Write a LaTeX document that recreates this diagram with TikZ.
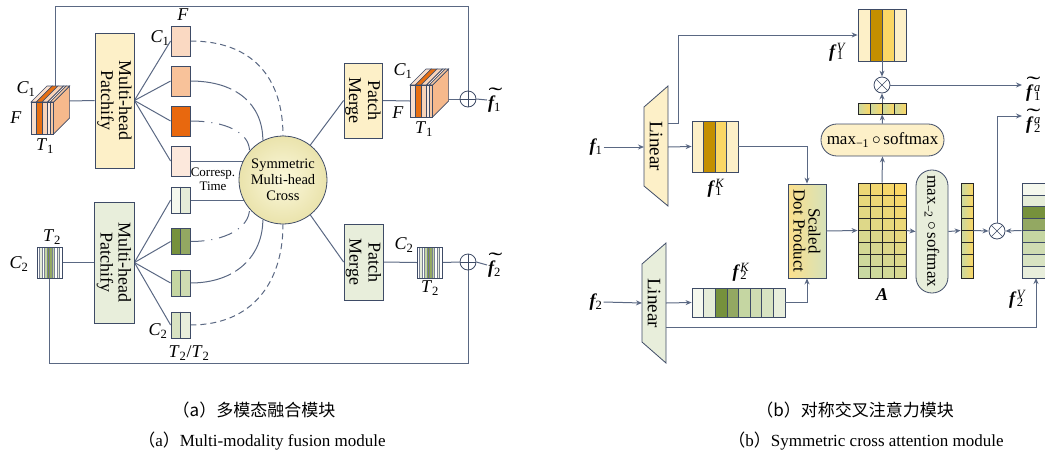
\documentclass[tikz,border=0pt]{standalone}
\usepackage{fontspec}
\usepackage{graphicx}
\setmainfont{Liberation Serif}
\newfontfamily\cjk{Noto Sans CJK SC}
\usetikzlibrary{arrows.meta}
\pgfdeclarelayer{bg}
\pgfsetlayers{bg,main}

\definecolor{wirec}{HTML}{5A6883}
\definecolor{edgec}{HTML}{3E4B66}
\definecolor{cream}{HTML}{FDF0C8}
\definecolor{sage}{HTML}{E8EEDB}
\definecolor{gold}{HTML}{C48F00}
\definecolor{ayel}{HTML}{FBD765}
\definecolor{agrn}{HTML}{C9D9A2}
\definecolor{sdpTop}{HTML}{FCE08C}
\definecolor{sdpBot}{HTML}{D6E1B9}
\definecolor{pkA}{HTML}{FAD9C2}
\definecolor{pkB}{HTML}{F8C29A}
\definecolor{pkC}{HTML}{E8680E}
\definecolor{pkD}{HTML}{FCE8DC}
\definecolor{gA}{HTML}{F5F8EE}
\definecolor{gB}{HTML}{E5ECD8}
\definecolor{gC}{HTML}{76913C}
\definecolor{gD}{HTML}{93A862}
\definecolor{gE}{HTML}{C5D6A2}
\definecolor{gF}{HTML}{CFDCB2}
\definecolor{gG}{HTML}{D8E3C2}
\definecolor{gH}{HTML}{E8EEDC}
\definecolor{slA}{HTML}{F9DFCD}
\definecolor{slB}{HTML}{E76F12}
\definecolor{slC}{HTML}{F8D3B8}
\definecolor{slD}{HTML}{FBE9DE}
\definecolor{slE}{HTML}{F7C8A3}
\definecolor{slSide}{HTML}{F6B98C}
\definecolor{ballIn}{HTML}{FBF8DC}
\definecolor{ballOut}{HTML}{EAE3AC}

% label helpers
\newcommand\mylab[2]{\textit{#1}\textsubscript{#2}}
\newcommand\bff{{\bfseries\itshape f}}
\newcommand\fsub[1]{\bff\textsubscript{#1}}
\newcommand\fss[2]{\bff\kern.1em\rlap{\textsubscript{#1}}\textsuperscript{\itshape #2}}
\newcommand\tilf{\rlap{\raisebox{.36em}{\kern.02em\scalebox{2.3}[1.2]{\char"02DC}}}\bff}
\newcommand\ftil[1]{\tilf\textsubscript{#1}}
\newcommand\ftila[1]{\tilf\kern.1em\rlap{\textsubscript{#1}}\textsuperscript{\itshape a}}

% stack of feature slices (front top-left corner at #1,#2)
\newcommand\slabs[2]{%
  \begin{scope}[shift={(#1,#2)}]
    \filldraw[fill=slSide, draw=edgec, line width=0.6pt] (22.6,0) -- (38.6,-16) -- (38.6,16) -- (22.6,32) -- cycle;
    \foreach \a/\b/\col in {0/5.3/slA,5.3/11/slB,11/16.6/slC,16.6/19.3/slD,19.3/22.6/slE} {
      \filldraw[fill=\col, draw=edgec, line width=0.6pt] (\a,0) -- (\b,0) -- (\b+16,-16) -- (\a+16,-16) -- cycle;
      \filldraw[fill=\col, draw=edgec, line width=0.6pt] (\a,0) rectangle (\b,32);
    }
  \end{scope}}

% striped T x C feature map (top-left corner at #1,#2)
\newcommand\tstrip[2]{%
  \begin{scope}[shift={(#1,#2)}]
    \foreach \col [count=\i from 0] in {white,gB,white,gE,gC,gD,gE,white,gB,white}
      \filldraw[fill=\col, draw=edgec!70, line width=0.4pt] (2.5*\i,0) rectangle ++(2.5,31);
    \draw[edgec, line width=0.7pt] (0,0) rectangle (25,31);
  \end{scope}}

\begin{document}
\begin{tikzpicture}[x=1pt,y=-1pt,
  link/.style={draw=wirec, line width=1pt},
  arr/.style={link, -{Stealth[length=6pt,width=5pt]}},
  pbox/.style={draw=edgec, line width=0.8pt, rotate=-90, align=center, inner sep=0pt},
  patch/.style={draw=edgec, line width=0.8pt, minimum width=19pt, inner sep=0pt},
  op/.style={circle, draw=edgec, fill=white, line width=0.8pt, minimum size=16pt, inner sep=0pt},
  lbl/.style={inner sep=1pt, font=\fontsize{18}{18}\selectfont},
  dA/.style={link, dash pattern=on 6pt off 4pt},
  dB/.style={link, dash pattern=on 42pt off 5pt on 14pt off 5pt},
  dC/.style={link, dash pattern=on 14pt off 7pt on 1pt off 7pt},
]
\clip (0,0) rectangle (1045,456);

%% ================= (a) multi-modality fusion module =================
\slabs{31}{102}
\coordinate (cubeAtop) at (55,94);
\coordinate (cubeAside) at (69,101);
\slabs{410}{85}
\coordinate (cubeBin) at (410,101);
\coordinate (cubeBout) at (448,99);

\node[lbl] (cA1) at (26,89) {\mylab{C}{1}};
\node[lbl] (fA1) at (16,118) {\textit{F}};
\node[lbl] (tA1) at (45,146) {\mylab{T}{1}};
\node[lbl] (cB1) at (403,71) {\mylab{C}{1}};
\node[lbl] (fB1) at (398,113) {\textit{F}};
\node[lbl] (tB1) at (424,129) {\mylab{T}{1}};

\node[pbox, fill=cream, minimum width=135pt, minimum height=39pt,
      font=\fontsize{18}{18}\selectfont] (patchA) at (114.5,100.5) {Multi-head\\Patchify};
\node[pbox, fill=sage, minimum width=121pt, minimum height=40pt,
      font=\fontsize{18}{18}\selectfont] (patchB) at (114,262.5) {Multi-head\\Patchify};

% patches of modality 1
\node[patch, minimum height=30pt, fill=pkA] (p1) at (180.5,41) {};
\node[patch, minimum height=30pt, fill=pkB] (p2) at (180.5,81) {};
\node[patch, minimum height=30pt, fill=pkC] (p3) at (180.5,121) {};
\node[patch, minimum height=30pt, fill=pkD] (p4) at (180.5,161) {};
\node[lbl] (fP) at (183,15) {\textit{F}};
\node[lbl] (cP) at (160,38) {\mylab{C}{1}};

% patches of modality 2 (two halves each)
\foreach \nm/\yy/\cl/\cr in {p5/200/gA/gB, p6/241.5/gC/gD, p7/283/gE/gF, p8/325/gG/gH} {
  \node[patch, minimum height=26pt, fill=\cl,
        path picture={\fill[\cr] (path picture bounding box.north) rectangle (path picture bounding box.south east);}]
        (\nm) at (180.5,\yy) {};
  \draw[edgec, line width=0.8pt] (\nm.north) -- (\nm.south);
}
\node[lbl] (cQ) at (158,331) {\mylab{C}{2}};
\node[lbl] (tQ) at (189,353) {\mylab{T}{2}/\mylab{T}{2}};

\node[align=center, inner sep=0pt, font=\fontsize{13}{14}\selectfont] (corr) at (213,179) {Corresp.\\Time};

\node[circle, draw=edgec, line width=0.8pt, inner color=ballIn, outer color=ballOut,
      minimum size=88pt, inner sep=0pt, align=center,
      font=\fontsize{14.5}{16}\selectfont] (smc) at (283,180) {Symmetric\\Multi-head\\Cross};

\node[pbox, fill=cream, minimum width=75pt, minimum height=38pt,
      font=\fontsize{18}{19}\selectfont] (mergeA) at (363,100.5) {Patch\\Merge};
\node[pbox, fill=sage, minimum width=76pt, minimum height=39pt,
      font=\fontsize{18}{19}\selectfont] (mergeB) at (363.5,262) {Patch\\Merge};

\tstrip{37}{247}
\node[minimum width=25pt, minimum height=31pt, inner sep=0pt] (stripA) at (49.5,262.5) {};
\node[lbl] (tS) at (52,237) {\mylab{T}{2}};
\node[lbl] (cS) at (19,264) {\mylab{C}{2}};
\tstrip{417}{247}
\node[minimum width=25pt, minimum height=31pt, inner sep=0pt] (stripB) at (429.5,262.5) {};
\node[lbl] (cS2) at (404,245) {\mylab{C}{2}};
\node[lbl] (tS2) at (430,288) {\mylab{T}{2}};

\node[op] (plusA) at (468,99) {};
\draw[edgec, line width=0.5pt] (plusA.north) -- (plusA.south) (plusA.east) -- (plusA.west);
\node[op] (plusB) at (468,262) {};
\draw[edgec, line width=0.5pt] (plusB.north) -- (plusB.south) (plusB.east) -- (plusB.west);
\node[lbl, anchor=west] (outA) at (487,100) {\ftil{1}};
\node[lbl, anchor=west] (outB) at (487,265) {\ftil{2}};

\coordinate (loopA) at (468,6);
\coordinate (loopB) at (468,363);

\begin{pgfonlayer}{bg}
  \draw[link] (cubeAtop) |- (loopA) -- (plusA.north);
  \draw[link] (cubeAside) -- (patchA.south);
  \foreach \p in {p1,p2,p3,p4} \draw[link] (patchA.north) -- (\p.west);
  \foreach \p in {p5,p6,p7,p8} \draw[link] (patchB.north) -- (\p.west);
  \draw[link] (stripA.east) -- (patchB.south);
  \draw[link] (stripA.south) |- (loopB) -- (plusB.south);
  \draw[link] (p4.east) -- (p4.east -| smc.center);
  \draw[link] (p5.east) -- (p5.east -| smc.center);
  \draw[dA] (p1.east) .. controls +(62,0) and +(0,-58) .. (smc.90);
  \draw[dB] (p2.east) .. controls +(46,0) and +(0,-36) .. (smc.117);
  \draw[dC] (p3.east) .. controls +(36,0) and +(0,-18) .. (smc.139);
  \draw[dC] (p6.east) .. controls +(36,0) and +(0,18) .. (smc.-139);
  \draw[dB] (p7.east) .. controls +(46,0) and +(0,36) .. (smc.-117);
  \draw[dA] (p8.east) .. controls +(62,0) and +(0,58) .. (smc.-90);
  \draw[link] (smc.52) -- (mergeA.south);
  \draw[link] (smc.-52) -- (mergeB.south);
  \draw[link] (mergeA.north) -- (cubeBin);
  \draw[link] (cubeBout) -- (plusA.west);
  \draw[link] (plusA.east) -- (outA.west);
  \draw[link] (mergeB.north) -- (stripB.west);
  \draw[link] (stripB.east) -- (plusB.west);
  \draw[link] (plusB.east) -- (outB.west);
\end{pgfonlayer}

%% ================= (b) symmetric cross attention module =================
\node[lbl] (fA) at (596,147) {\fsub{1}};
\node[lbl] (fB) at (596,302) {\fsub{2}};

% linear projections
\filldraw[fill=cream, draw=edgec, line width=0.8pt] (644,107) -- (668,86) -- (668,206) -- (644,186) -- cycle;
\filldraw[fill=sage, draw=edgec, line width=0.8pt] (642,264) -- (666,243) -- (666,363) -- (642,342) -- cycle;
\node[rotate=-90, font=\fontsize{19}{19}\selectfont] (linA) at (656,146) {Linear};
\node[rotate=-90, font=\fontsize{19}{19}\selectfont] (linB) at (654,303) {Linear};
\coordinate (lAin) at (644,147);
\coordinate (lAout) at (668,147);
\coordinate (lAup) at (668,123);
\coordinate (lAturn) at (678,123);
\coordinate (lBin) at (642,303);
\coordinate (lBout) at (666,303);
\coordinate (lBlow) at (666,327);

% key / value blocks
\foreach \col [count=\i from 0] in {cream,gold,ayel,cream}
  \fill[\col] (692+11.5*\i,121) rectangle ++(11.5,51);
\foreach \i in {1,2,3} \draw[edgec, line width=0.6pt] (692+11.5*\i,121) -- ++(0,51);
\node[draw=edgec, line width=0.8pt, minimum width=46pt, minimum height=51pt, inner sep=0pt] (kA) at (715,146.5) {};
\node[lbl] (kAl) at (716,188) {\fss{1}{K}};

\foreach \col [count=\i from 0] in {cream,gold,ayel,cream}
  \fill[\col] (858+12*\i,9) rectangle ++(12,52);
\foreach \i in {1,2,3} \draw[edgec, line width=0.6pt] (858+12*\i,9) -- ++(0,52);
\node[draw=edgec, line width=0.8pt, minimum width=48pt, minimum height=52pt, inner sep=0pt] (vA) at (882,35) {};
\node[lbl] (vAl) at (837,52) {\fss{1}{V}};

\foreach \col [count=\i from 0] in {gA,gB,gC,gD,gE,gF,gG,gH}
  \fill[\col] (692+11.625*\i,288) rectangle ++(11.625,29);
\foreach \i in {1,...,7} \draw[edgec, line width=0.6pt] (692+11.625*\i,288) -- ++(0,29);
\node[draw=edgec, line width=0.8pt, minimum width=93pt, minimum height=29pt, inner sep=0pt] (kB) at (738.5,302.5) {};
\node[lbl] (kBl) at (741,272) {\fss{2}{K}};

\foreach \col [count=\i from 0] in {gA,gB,gC,gD,gE,gF,gG,gH}
  \fill[\col] (1022,183+11.875*\i) rectangle ++(48,11.875);
\foreach \i in {1,...,7} \draw[edgec, line width=0.6pt] (1022,183+11.875*\i) -- ++(48,0);
\node[draw=edgec, line width=0.8pt, minimum width=48pt, minimum height=95pt, inner sep=0pt] (vB) at (1046,230.5) {};
\node[lbl] (vBl) at (1017,299) {\fss{2}{V}};

% scaled dot product
\node[pbox, left color=sdpTop, right color=sdpBot, minimum width=94pt, minimum height=38pt,
      font=\fontsize{17}{15}\selectfont] (sdp) at (807,231) {Scaled\\Dot Product};

% attention matrix A
\foreach \r in {0,...,7} \foreach \c in {0,...,3} {
  \pgfmathsetmacro\mix{100-100*(0.72*\r/7+0.28*(3-\c)/3)}
  \fill[ayel!\mix!agrn] (858+12*\c,183+11.875*\r) rectangle ++(12,11.875);
}
\foreach \i in {1,2,3} \draw[black!85, line width=0.7pt] (858+12*\i,183) -- ++(0,95);
\foreach \i in {1,...,7} \draw[black!85, line width=0.7pt] (858,183+11.875*\i) -- ++(48,0);
\node[draw=black!85, line width=0.8pt, minimum width=48pt, minimum height=95pt, inner sep=0pt] (amat) at (882,230.5) {};
\node[lbl] (Al) at (882,295) {\textbf{\textit{A}}};

% softmax branches
\node[draw=edgec, line width=0.8pt, fill=cream, rounded corners=15.9pt, minimum width=123pt,
      minimum height=32pt, inner sep=0pt, font=\fontsize{17}{17}\selectfont]
      (smA) at (882.5,140) {max\textsubscript{−1}\,$\circ$\,softmax};
\node[pbox, fill=sage, rounded corners=15.9pt, minimum width=123pt, minimum height=32pt,
      font=\fontsize{17}{17}\selectfont] (smB) at (932,231.5) {max\textsubscript{−2}\,$\circ$\,softmax};

\foreach \c in {0,...,3}
  \shade[left color=agrn, right color=ayel] (858+12*\c,103) rectangle ++(12,11);
\foreach \i in {1,2,3} \draw[black!85, line width=0.6pt] (858+12*\i,103) -- ++(0,11);
\node[draw=black!85, line width=0.8pt, minimum width=48pt, minimum height=11pt, inner sep=0pt] (rowv) at (882,108.5) {};

\foreach \r in {0,...,7}
  \shade[left color=agrn, right color=ayel] (961,183+11.875*\r) rectangle ++(12,11.875);
\foreach \i in {1,...,7} \draw[black!85, line width=0.6pt] (961,183+11.875*\i) -- ++(12,0);
\node[draw=black!85, line width=0.8pt, minimum width=12pt, minimum height=95pt, inner sep=0pt] (colv) at (967,230.5) {};

% products
\node[op] (mulA) at (882,85) {};
\draw[edgec, line width=0.5pt] (mulA.45) -- (mulA.225) (mulA.135) -- (mulA.-45);
\node[op] (mulB) at (997,231) {};
\draw[edgec, line width=0.5pt] (mulB.45) -- (mulB.225) (mulB.135) -- (mulB.-45);

\coordinate (outAt) at (1022,85);
\coordinate (outBt) at (1022,116);
\coordinate (vBin) at (1036,278);
\node[lbl, anchor=west, inner sep=0pt] (oA) at (1026,89) {\ftila{1}};
\node[lbl, anchor=west, inner sep=0pt] (oB) at (1026,121) {\ftila{2}};

\draw[arr] (fA.east) -- (lAin);
\draw[arr] (lAout) -- (kA.west);
\draw[arr] (lAup) -- (lAturn) |- (vA.west);
\draw[arr] (kA.east) -| (sdp.west);
\draw[arr] (fB.east) -- (lBin);
\draw[arr] (lBout) -- (kB.west);
\draw[arr] (kB.east) -| (sdp.east);
\draw[arr] (lBlow) -| (vBin);
\draw[arr] (sdp.north) -- (amat.west);
\draw[arr] (amat.north) -- (smA.south);
\draw[arr] (smA.north) -- (rowv.south);
\draw[arr] (rowv.north) -- (mulA.south);
\draw[arr] (vA.south) -- (mulA.north);
\draw[arr] (mulA.east) -- (outAt);
\draw[arr] (amat.east) -- (smB.south);
\draw[arr] (smB.north) -- (colv.west);
\draw[arr] (colv.east) -- (mulB.west);
\draw[arr] (vB.west) -- (mulB.east);
\draw[arr] (mulB.north) |- (outBt);

%% ================= captions =================
\node[font=\cjk\fontsize{17}{17}\selectfont] (capAz) at (254,410) {（a）多模态融合模块};
\node[font=\fontsize{17}{17}\selectfont] (capAe) at (262,441) {{\cjk （}a{\cjk ）}Multi-modality fusion module};
\node[font=\cjk\fontsize{17}{17}\selectfont] (capBz) at (855,410) {（b）对称交叉注意力模块};
\node[font=\fontsize{17}{17}\selectfont] (capBe) at (866,441) {{\cjk （}b{\cjk ）}Symmetric cross attention module};
\end{tikzpicture}
\end{document}
